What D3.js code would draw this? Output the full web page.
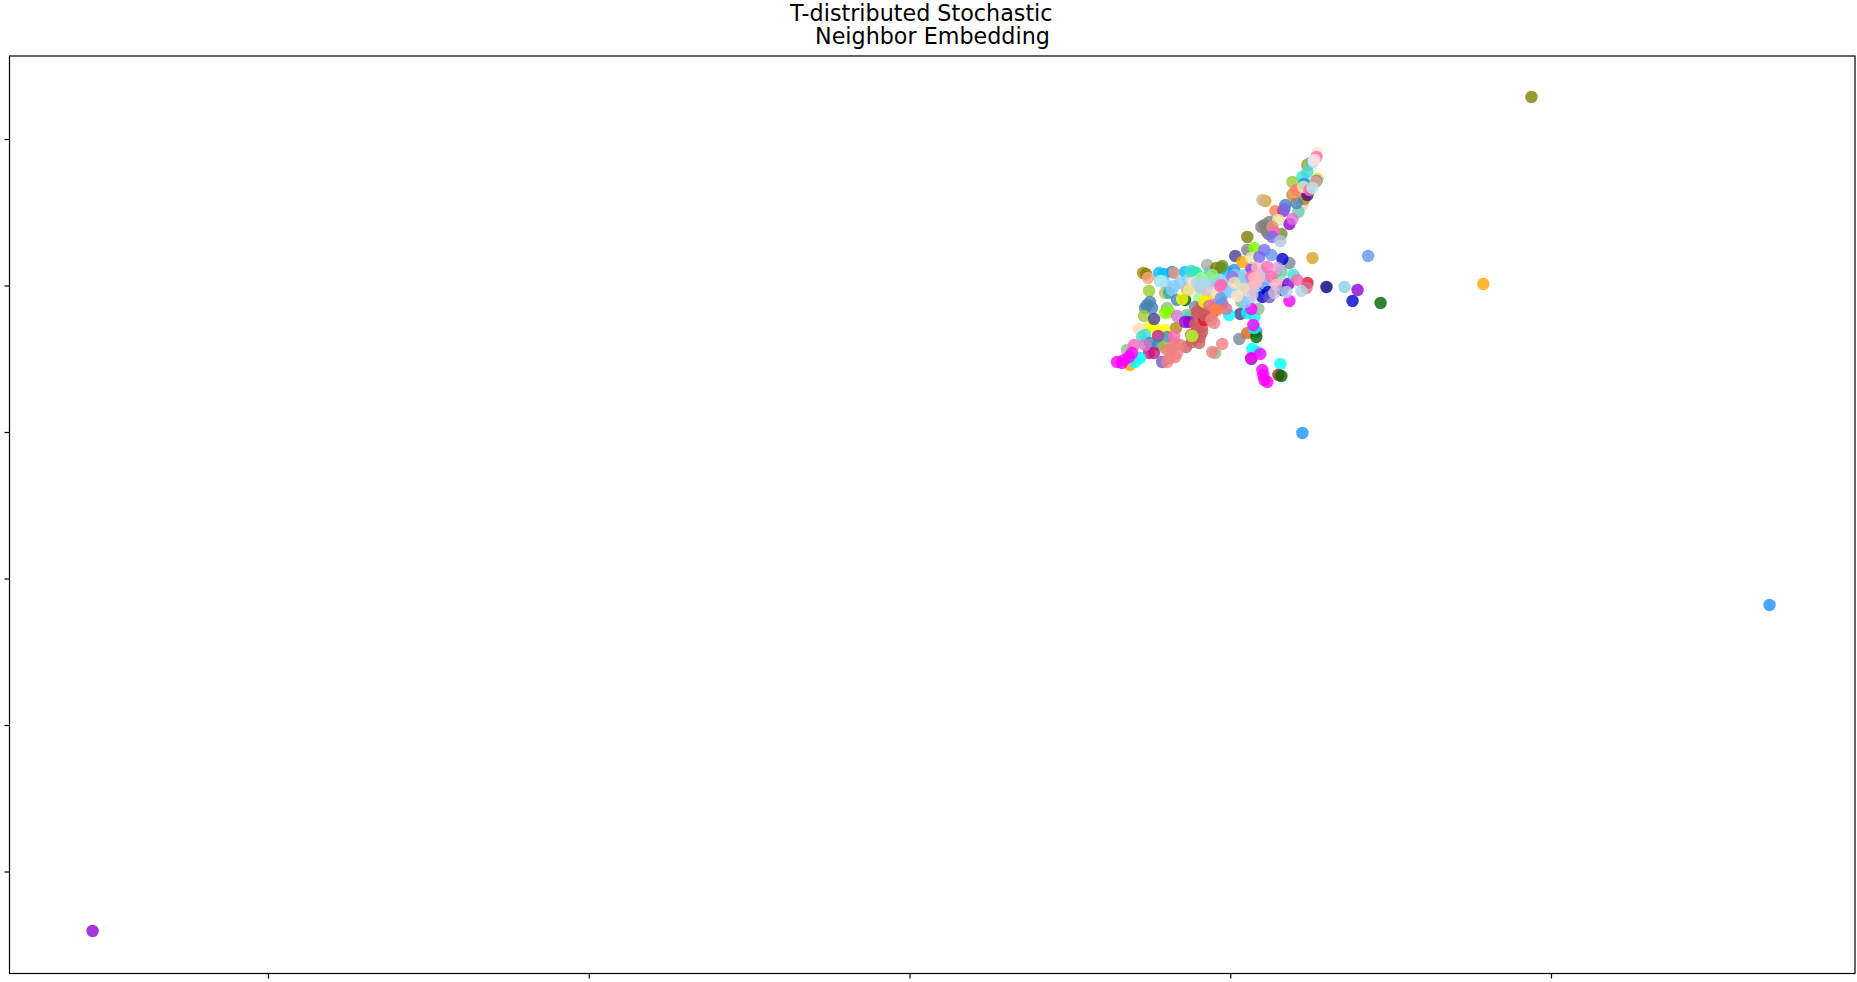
<!DOCTYPE html>
<html>
<head>
<meta charset="utf-8">
<script src="https://cdn.jsdelivr.net/npm/d3@7"></script>
<style>
    body { margin: 0; background: #fff; }
    svg { display: block; }
    text { font-family: "DejaVu Sans"; }
</style>
</head>
<body>
<div id="svg-container"></div>
<script>
const xTicks = [-640, -320, 0, 320, 640];
const yTicks = [293, 146.5, 0, -146.5, -293, -439.5];
const titleLines = ["T-distributed Stochastic", "Neighbor Embedding"];

// embedding values: [x, y, label colour], in drawing order
const outliers = [
    [620.5, 335, "olive"], [572.5, 148, "orange"], [457.5, 176, "cornflowerblue"], [402, 174, "goldenrod"],
    [416, 145, "navy"], [434, 145, "skyblue"], [447, 142, "darkviolet"], [442, 131, "mediumblue"],
    [470, 129, "darkgreen"], [-815, -499, "darkviolet"], [858, -173, "dodgerblue"], [392, -1, "dodgerblue"]
];
const topArm = [
    [355, 231, "goldenrod"], [352, 232, "tan"], [337, 195, "olive"],
    [354, 207, "grey"], [359, 210, "grey"], [351, 205, "grey"], [356, 201, "grey"], [361, 205, "grey"], [358, 198, "grey"],
    [371, 198, "olivedrab"], [365, 221, "coral"], [373, 221, "mediumvioletred"], [375, 227, "steelblue"], [374, 223, "mediumslateblue"],
    [392, 227, "lightgrey"], [388, 220, "mediumaquamarine"], [394, 233, "darkgoldenrod"], [397, 237, "indigo"], [386, 229, "steelblue"],
    [379, 208, "darkviolet"], [382, 213, "orchid"], [368, 212, "palegoldenrod"],
    [362, 205, "darksalmon"], [364, 200, "hotpink"], [362, 195, "mediumslateblue"], [370, 191, "lightsteelblue"],
    [382, 250, "yellowgreen"], [382, 237, "peru"], [384, 240, "sandybrown"], [386, 242, "salmon"],
    [397, 267, "indianred"], [398, 268, "yellowgreen"], [397, 260, "turquoise"], [392, 255, "turquoise"], [394, 249, "turquoise"],
    [394, 248, "dodgerblue"], [393, 245, "palegoldenrod"],
    [407, 279, "bisque"], [402, 270, "deepskyblue"], [406, 275, "hotpink"], [403, 270, "lavender"], [404, 272, "mistyrose"],
    [407, 253, "gold"], [406, 251, "dodgerblue"], [399, 242, "hotpink"], [405, 250, "lightsalmon"], [402, 244, "paleturquoise"]
];
const leftArm = [
    [233, 159, "darkgoldenrod"], [236, 158, "olive"], [239, 141, "yellowgreen"], [249, 159, "deepskyblue"], [254, 158, "deepskyblue"],
    [262, 160, "dodgerblue"], [238, 154, "lightsalmon"], [264, 159, "darksalmon"], [275, 160, "deepskyblue"], [283, 160, "mediumturquoise"],
    [286, 159, "springgreen"], [300, 160, "springgreen"], [250, 151, "skyblue"], [255, 149, "lightskyblue"], [251, 151, "paleturquoise"],
    [278, 152, "lightblue"], [264, 146, "lightskyblue"], [270, 149, "lightskyblue"], [255, 139, "darkkhaki"], [259, 139, "lightseagreen"],
    [262, 142, "lightskyblue"], [277, 142, "tan"], [287, 147, "lightblue"], [284, 150, "bisque"], [290, 144, "plum"],
    [289, 134, "palegreen"], [240, 130, "steelblue"], [237, 127, "steelblue"], [242, 124, "steelblue"], [235, 124, "steelblue"],
    [234, 116, "yellowgreen"], [267, 132, "steelblue"], [275, 132, "darkgreen"], [272, 133, "yellow"],
    [257, 124, "darkseagreen"], [255, 119, "chartreuse"], [259, 120, "chartreuse"], [245, 104, "yellow"], [255, 102, "yellow"], [240, 105, "yellow"],
    [244, 113, "darkslateblue"], [267, 116, "orchid"], [229, 103, "peachpuff"], [232, 95, "turquoise"], [235, 97, "turquoise"],
    [248, 96, "mediumvioletred"], [266, 104, "darkgoldenrod"], [277, 117, "mediumaquamarine"], [279, 115, "mediumaquamarine"], [275, 110, "darkviolet"], [279, 110, "darkviolet"],
    [294, 129, "grey"], [285, 125, "lightslategrey"],
    [287, 119, "indianred"], [292, 112, "indianred"], [292, 100, "indianred"], [287, 104, "indianred"], [290, 95, "indianred"], [284, 94, "indianred"],
    [289, 89, "indianred"], [282, 90, "indianred"], [294, 119, "indianred"], [276, 85, "indianred"], [281, 97, "indianred"], [292, 105, "indianred"],
    [297, 115, "indianred"], [302, 118, "indianred"], [306, 124, "indianred"], [312, 128, "indianred"], [285, 108, "indianred"], [290, 124, "indianred"], [295, 122, "indianred"],
    [294, 112, "crimson"], [282, 96, "greenyellow"],
    [305, 79, "darkseagreen"], [302, 80, "lightcoral"], [312, 88, "lightcoral"],
    [220, 67, "orange"], [217, 82, "darkseagreen"], [240, 89, "steelblue"], [248, 87, "steelblue"], [257, 95, "steelblue"], [239, 79, "mediumvioletred"], [244, 79, "mediumvioletred"], [254, 85, "yellowgreen"], [252, 70, "slateblue"],
    [257, 82, "lightcoral"], [262, 84, "lightcoral"], [260, 74, "lightcoral"], [257, 70, "lightcoral"], [265, 75, "lightcoral"], [267, 79, "lightcoral"],
    [265, 89, "lightcoral"], [270, 87, "lightcoral"], [264, 96, "hotpink"],
    [225, 70, "aqua"], [230, 74, "aqua"], [224, 87, "hotpink"], [235, 87, "orchid"],
    [207, 70, "magenta"], [212, 69, "magenta"], [214, 72, "magenta"], [219, 75, "magenta"], [222, 79, "magenta"]
];
const centreBase = [
    [311, 164, "olive"], [317, 160, "deepskyblue"], [324, 162, "dodgerblue"], [304, 155, "lightgreen"], [294, 154, "mediumaquamarine"],
    [297, 134, "gold"], [309, 132, "cornflowerblue"], [304, 122, "tomato"], [331, 130, "darkseagreen"], [299, 127, "hotpink"],
    [311, 147, "lightpink"], [307, 139, "bisque"], [331, 155, "lightskyblue"], [334, 157, "skyblue"], [316, 144, "lightskyblue"],
    [337, 150, "lightskyblue"], [339, 130, "lightblue"], [354, 154, "lightskyblue"], [347, 144, "lightskyblue"], [354, 144, "mediumblue"],
    [341, 164, "blueviolet"], [367, 155, "yellowgreen"], [371, 160, "mediumaquamarine"],
    [300, 150, "lightblue"], [310, 152, "lightskyblue"], [315, 140, "lightskyblue"], [290, 145, "lightblue"], [305, 148, "lightskyblue"],
    [325, 157, "lightskyblue"], [335, 148, "lightskyblue"], [345, 140, "lightskyblue"], [355, 148, "lightskyblue"], [330, 140, "lightskyblue"],
    [318, 152, "lightskyblue"], [362, 142, "lightblue"], [372, 150, "lightblue"]
];
const centre = [
    [325, 176, "darkslateblue"], [337, 182, "grey"], [379, 169, "lightslategrey"], [372, 173, "mediumblue"], [344, 184, "chartreuse"],
    [332, 170, "orange"], [341, 174, "palegoldenrod"], [354, 182, "mediumslateblue"], [349, 175, "mediumslateblue"], [361, 177, "cornflowerblue"],
    [297, 167, "darkgrey"], [306, 164, "olive"], [312, 166, "olivedrab"], [281, 161, "turquoise"], [322, 155, "mediumpurple"],
    [302, 157, "lightgreen"], [291, 154, "palegreen"], [279, 142, "khaki"], [294, 130, "yellow"], [297, 142, "thistle"],
    [287, 149, "lightblue"], [294, 149, "lightblue"], [307, 140, "wheat"], [311, 134, "cornflowerblue"], [311, 147, "hotpink"],
    [330, 118, "darkslateblue"], [319, 117, "aqua"], [337, 119, "aqua"], [344, 115, "aqua"], [348, 123, "darkseagreen"], [341, 123, "magenta"],
    [316, 123, "palevioletred"], [307, 122, "coral"], [299, 126, "palevioletred"], [304, 122, "coral"], [287, 120, "indianred"], [294, 117, "indianred"],
    [301, 112, "lightcoral"], [304, 109, "lightcoral"],
    [330, 150, "lightskyblue"], [320, 140, "lightskyblue"], [335, 130, "lightskyblue"], [345, 150, "lightskyblue"], [352, 160, "lightskyblue"],
    [352, 135, "mediumblue"], [358, 140, "mediumblue"], [372, 142, "mediumblue"], [359, 135, "slateblue"],
    [347, 164, "lightpink"], [357, 165, "hotpink"], [367, 164, "plum"], [341, 155, "hotpink"], [344, 154, "lightpink"], [349, 155, "lightpink"],
    [346, 149, "lightpink"], [342, 145, "lightpink"], [324, 149, "wheat"], [333, 143, "wheat"], [327, 136, "bisque"], [310, 146, "hotpink"],
    [342, 137, "thistle"], [361, 155, "hotpink"], [366, 147, "lightpink"], [364, 139, "thistle"],
    [378, 148, "darkviolet"], [379, 131, "magenta"], [383, 157, "turquoise"], [397, 149, "crimson"], [396, 144, "palevioletred"], [387, 152, "hotpink"],
    [391, 141, "lightblue"], [376, 140, "lightblue"]
];
const lowerTail = [
    [329, 93, "lightslategrey"], [337, 99, "chocolate"], [346, 100, "steelblue"], [346, 95, "darkgreen"], [344, 104, "aqua"], [343, 107, "magenta"],
    [342, 83, "aqua"], [347, 80, "aqua"], [341, 73, "darkslateblue"], [341, 74, "magenta"], [350, 78, "magenta"],
    [370, 68, "aqua"], [368, 57, "brown"], [371, 56, "darkgreen"],
    [352, 62, "magenta"], [353, 57, "magenta"], [354, 52, "magenta"], [357, 50, "magenta"]
];
const embedding = [].concat(outliers, leftArm, centreBase, centre, lowerTail, topArm);

const width = 1857,
    height = 982,
    frame = { left: 9.5, right: 1855, top: 56, bottom: 973.5 };

const svg = d3.select("#svg-container").append("svg")
    .attr("width", width)
    .attr("height", height);

const x = d3.scaleLinear().domain([-640, 640]).range([268, 1551]);
const y = d3.scaleLinear().domain([293, -439.5]).range([139, 871.5]);

svg.append("g")
    .selectAll("circle")
    .data(embedding)
    .join("circle")
    .attr("cx", d => x(d[0]))
    .attr("cy", d => y(d[1]))
    .attr("r", 6.2)
    .attr("fill", d => d[2])
    .attr("fill-opacity", 0.8);

// frame
svg.append("rect")
    .attr("x", frame.left)
    .attr("y", frame.top)
    .attr("width", frame.right - frame.left)
    .attr("height", frame.bottom - frame.top)
    .attr("fill", "none")
    .attr("stroke", "black")
    .attr("stroke-width", 1.2);

// ticks have no labels in the original
const xAxis = svg.append("g")
    .attr("transform", `translate(0,${frame.bottom})`)
    .call(d3.axisBottom(x).tickValues(xTicks).tickSize(5).tickFormat(""));
const yAxis = svg.append("g")
    .attr("transform", `translate(${frame.left},0)`)
    .call(d3.axisLeft(y).tickValues(yTicks).tickSize(5).tickFormat(""));
xAxis.select(".domain").remove();
yAxis.select(".domain").remove();
svg.selectAll(".tick line").attr("stroke", "black").attr("stroke-width", 1.2);

svg.append("text")
    .attr("x", 790)
    .attr("y", 21)
    .attr("font-size", 22.25)
    .attr("fill", "black")
    .text(titleLines[0]);
svg.append("text")
    .attr("x", 815)
    .attr("y", 43.5)
    .attr("font-size", 22.25)
    .attr("fill", "black")
    .text(titleLines[1]);
</script>
</body>
</html>
